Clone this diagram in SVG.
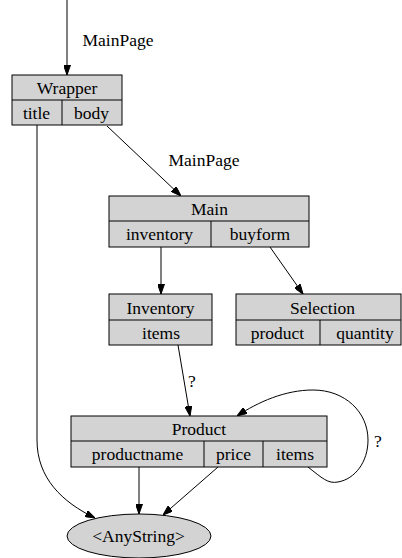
<svg xmlns="http://www.w3.org/2000/svg" width="402" height="558" viewBox="0 0 402 558">
<style>
.box{fill:#d3d3d3;stroke:#000;stroke-width:1}
.ln{stroke:#000;stroke-width:1;fill:none}
.t{font-family:"Liberation Serif","Times New Roman",serif;font-size:17.5px;fill:#000;text-anchor:middle}
.e{fill:none;stroke:#000;stroke-width:1;marker-end:url(#ah)}
</style>
<defs>
<marker id="ah" markerWidth="10" markerHeight="7" refX="10" refY="3.5" orient="auto" markerUnits="userSpaceOnUse">
<path d="M0,0 L10,3.5 L0,7 Z" fill="#000" stroke="#000" stroke-width="1"/>
</marker>
</defs>
<rect width="402" height="558" fill="#fff"/>
<g id="edges">
<path class="e" d="M67,0 L67,75"/>
<path class="e" d="M107,126 L181,196"/>
<path class="e" d="M161,247 L161,294"/>
<path class="e" d="M270,247 L303,294"/>
<path class="e" d="M178,345 L190,416"/>
<path class="e" d="M308,467 C322,478 328,484 338,482 C355,479 368,462 368,440 C368,412 345,390 313,390 C285,390 258,402 237,416"/>
<path class="e" d="M37,125 L37,440 C37,478 62,502 95,518"/>
<path class="e" d="M139,467 L139,514"/>
<path class="e" d="M218,467 L163,515"/>
<text class="t" x="118" y="46">MainPage</text>
<text class="t" x="204" y="166">MainPage</text>
<text class="t" x="192" y="387">?</text>
<text class="t" x="378" y="447">?</text>
</g>
<g id="Wrapper">
<rect class="box" x="12" y="75" width="110" height="50"/>
<line class="ln" x1="12" y1="100" x2="122" y2="100"/>
<line class="ln" x1="62" y1="100" x2="62" y2="125"/>
<text class="t" x="67" y="94">Wrapper</text>
<text class="t" x="36.5" y="119">title</text>
<text class="t" x="91.5" y="119">body</text>
</g>
<g id="Main">
<rect class="box" x="109" y="196" width="200" height="51"/>
<line class="ln" x1="109" y1="221" x2="309" y2="221"/>
<line class="ln" x1="211" y1="221" x2="211" y2="247"/>
<text class="t" x="209.5" y="215">Main</text>
<text class="t" x="159.5" y="240">inventory</text>
<text class="t" x="260" y="240">buyform</text>
</g>
<g id="Inventory">
<rect class="box" x="109" y="294" width="103" height="51"/>
<line class="ln" x1="109" y1="320" x2="212" y2="320"/>
<text class="t" x="160.5" y="314">Inventory</text>
<text class="t" x="161" y="339">items</text>
</g>
<g id="Selection">
<rect class="box" x="236" y="294" width="165" height="51"/>
<line class="ln" x1="236" y1="320" x2="401" y2="320"/>
<line class="ln" x1="320" y1="320" x2="320" y2="345"/>
<text class="t" x="322.5" y="314">Selection</text>
<text class="t" x="277.5" y="339">product</text>
<text class="t" x="365" y="339">quantity</text>
</g>
<g id="Product">
<rect class="box" x="71" y="416" width="256" height="51"/>
<line class="ln" x1="71" y1="441" x2="327" y2="441"/>
<line class="ln" x1="204" y1="441" x2="204" y2="467"/>
<line class="ln" x1="263" y1="441" x2="263" y2="467"/>
<text class="t" x="199" y="435">Product</text>
<text class="t" x="137.5" y="460">productname</text>
<text class="t" x="233.5" y="460">price</text>
<text class="t" x="295" y="460">items</text>
</g>
<g id="AnyString">
<ellipse class="box" cx="139" cy="536" rx="72" ry="22"/>
<text class="t" x="138.5" y="542">&lt;AnyString&gt;</text>
</g>
</svg>
